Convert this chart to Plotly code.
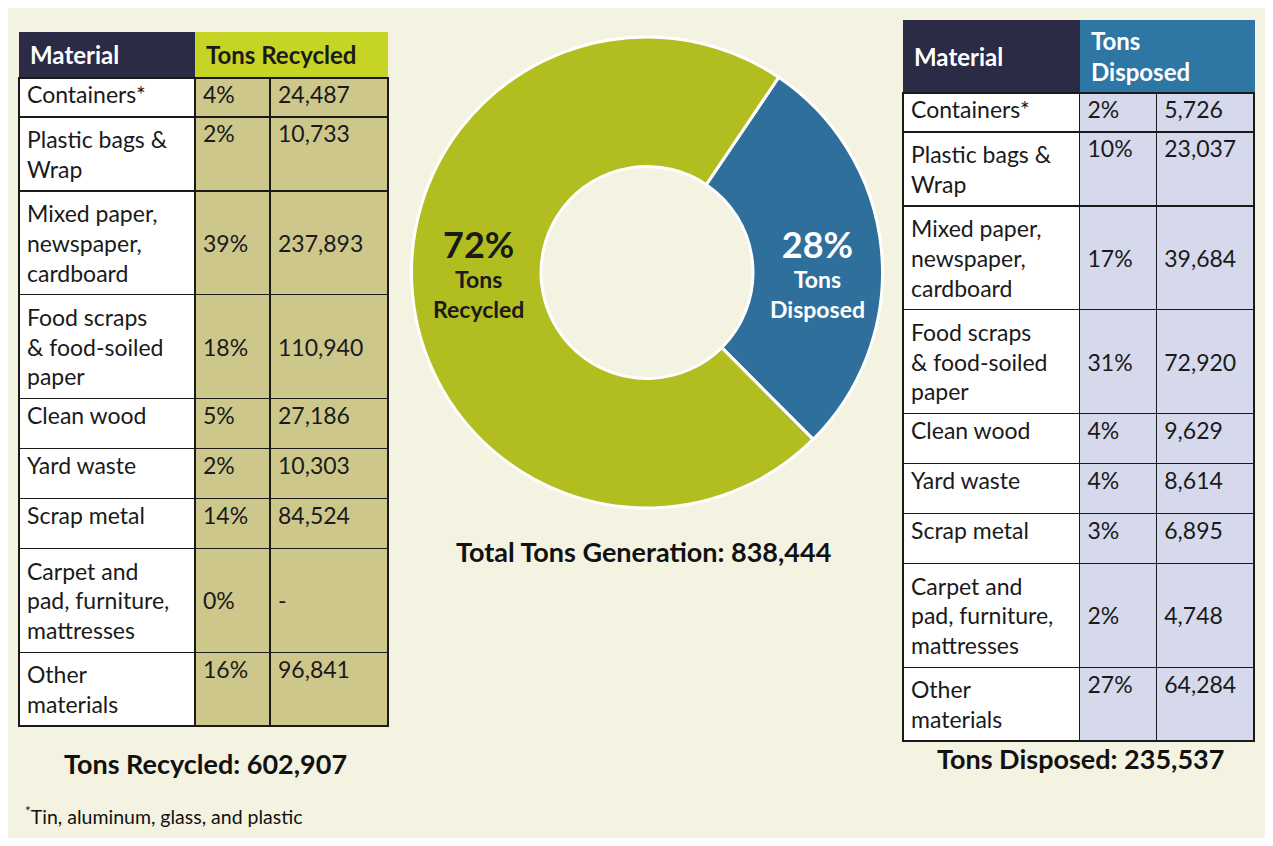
import plotly.graph_objects as go

# page body has an 8px margin, so the figure is drawn 8px in from the window edge
OFF = 8
W, H = 1273 - 2 * OFF, 846 - 2 * OFF

materials = [
    "Containers*",
    "Plastic bags &<br>Wrap",
    "Mixed paper,<br>newspaper,<br>cardboard",
    "Food scraps<br>& food-soiled<br>paper",
    "Clean wood",
    "Yard waste",
    "Scrap metal",
    "Carpet and<br>pad, furniture,<br>mattresses",
    "Other<br>materials",
]
recycled_pct = ["4%", "2%", "39%", "18%", "5%", "2%", "14%", "0%", "16%"]
recycled_tons = ["24,487", "10,733", "237,893", "110,940", "27,186", "10,303", "84,524", "-", "96,841"]
disposed_pct = ["2%", "10%", "17%", "31%", "4%", "4%", "3%", "2%", "27%"]
disposed_tons = ["5,726", "23,037", "39,684", "72,920", "9,629", "8,614", "6,895", "4,748", "64,284"]

stream_labels = ["Disposed", "Recycled"]
stream_tons = [235537, 602907]
total_tons = 838444

BG = "#f4f3e1"
NAVY = "#2c2b45"
LIME = "#c6d426"
TEAL = "#2e76a3"
TAN = "#cec78b"
LAVENDER = "#d6d9ec"
GREEN = "#b2be1f"
BLUE = "#2f6f9c"
INK = "#1a1a1a"
FONT = "Lato"
CELL_SIZE = 23


def px_x(x):
    return (x - OFF) / W


def px_y(y):
    return 1 - (y - OFF) / H


def centre_rows(vals, mats):
    # push single values down a line in 3-line rows so they sit mid-row
    out = []
    for v, m in zip(vals, mats):
        n = m.count("<br>") + 1
        out.append("\u00a0<br>" * ((n - 1) // 2) + v)
    return out


fig = go.Figure()


def add_table(x0, x1, head_top, head_bot, widths, head_vals, head_fill, head_font, pcts, tons, cell_fill):
    # header band: coloured blocks with left-aligned labels
    edges = [x0, x0 + widths[0], x1]
    for i, label in enumerate(head_vals):
        fig.add_shape(type="rect", xref="paper", yref="paper",
                      x0=px_x(edges[i]), x1=px_x(edges[i + 1]),
                      y0=px_y(head_bot), y1=px_y(head_top),
                      fillcolor=head_fill[i], line_width=0, layer="below")
        fig.add_annotation(text=f"<b>{label}</b>", xref="paper", yref="paper",
                           x=px_x(edges[i] + 9), y=px_y((head_top + head_bot) / 2),
                           xanchor="left", yanchor="middle", align="left", showarrow=False,
                           font=dict(family=FONT, size=24, color=head_font[i]))

    cols = [materials, centre_rows(pcts, materials), centre_rows(tons, materials)]
    fills = ["white", cell_fill, cell_fill]
    line = dict(color=INK, width=1.5)
    font = dict(family=FONT, size=CELL_SIZE, color=INK)
    fig.add_trace(go.Table(
        domain=dict(x=[px_x(x0), px_x(x1)], y=[px_y(800), px_y(head_bot)]),
        columnwidth=widths,
        header=dict(values=[c[0] for c in cols], fill_color=fills, line=line,
                    font=font, align="left", height=39),
        cells=dict(values=[c[1:] for c in cols], fill_color=fills, line=line,
                   font=font, align="left", height=50),
    ))


add_table(19, 388, 32, 78, [176, 75, 118],
          ["Material", "Tons Recycled"], [NAVY, LIME], ["white", INK],
          recycled_pct, recycled_tons, TAN)
add_table(903, 1255, 20, 93, [177, 77, 98],
          ["Material", "Tons<br>Disposed"], [NAVY, TEAL], ["white", "white"],
          disposed_pct, disposed_tons, LAVENDER)

fig.add_trace(go.Pie(
    labels=stream_labels,
    values=stream_tons,
    hole=0.45,
    sort=False,
    direction="clockwise",
    rotation=34,
    marker=dict(colors=[BLUE, GREEN], line=dict(color="white", width=3)),
    textinfo="none",
    domain=dict(x=[px_x(410), px_x(884)], y=[px_y(508), px_y(37)]),
    showlegend=False,
    hoverinfo="label+value+percent",
))

# slice labels
for name, tons, x, colour in [("Recycled", stream_tons[1], 478, INK), ("Disposed", stream_tons[0], 818, "white")]:
    pct = round(100 * tons / total_tons)
    fig.add_annotation(
        text=f"<b><span style='font-size:36px'>{pct}%</span><br>Tons<br>{name}</b>",
        x=px_x(x), y=px_y(272), xref="paper", yref="paper", showarrow=False,
        xanchor="center", yanchor="middle",
        font=dict(family=FONT, size=23, color=colour),
    )

notes = [
    (f"Total Tons Generation: {total_tons:,}", 643, 551),
    (f"Tons Recycled: {stream_tons[1]:,}", 205, 763),
    (f"Tons Disposed: {stream_tons[0]:,}", 1080, 758),
]
for text, x, y in notes:
    fig.add_annotation(
        text=f"<b>{text}</b>", x=px_x(x), y=px_y(y), xref="paper", yref="paper",
        showarrow=False, xanchor="center", yanchor="middle",
        font=dict(family=FONT, size=27, color="#111111"),
    )
fig.add_annotation(
    text="<sup>*</sup>Tin, aluminum, glass, and plastic", x=px_x(23), y=px_y(815),
    xref="paper", yref="paper", showarrow=False, xanchor="left", yanchor="middle",
    font=dict(family=FONT, size=19.5, color="#111111"),
)

fig.update_layout(
    width=W, height=H,
    margin=dict(l=0, r=0, t=0, b=0),
    paper_bgcolor=BG,
    plot_bgcolor=BG,
)

fig.write_html("out.html")
